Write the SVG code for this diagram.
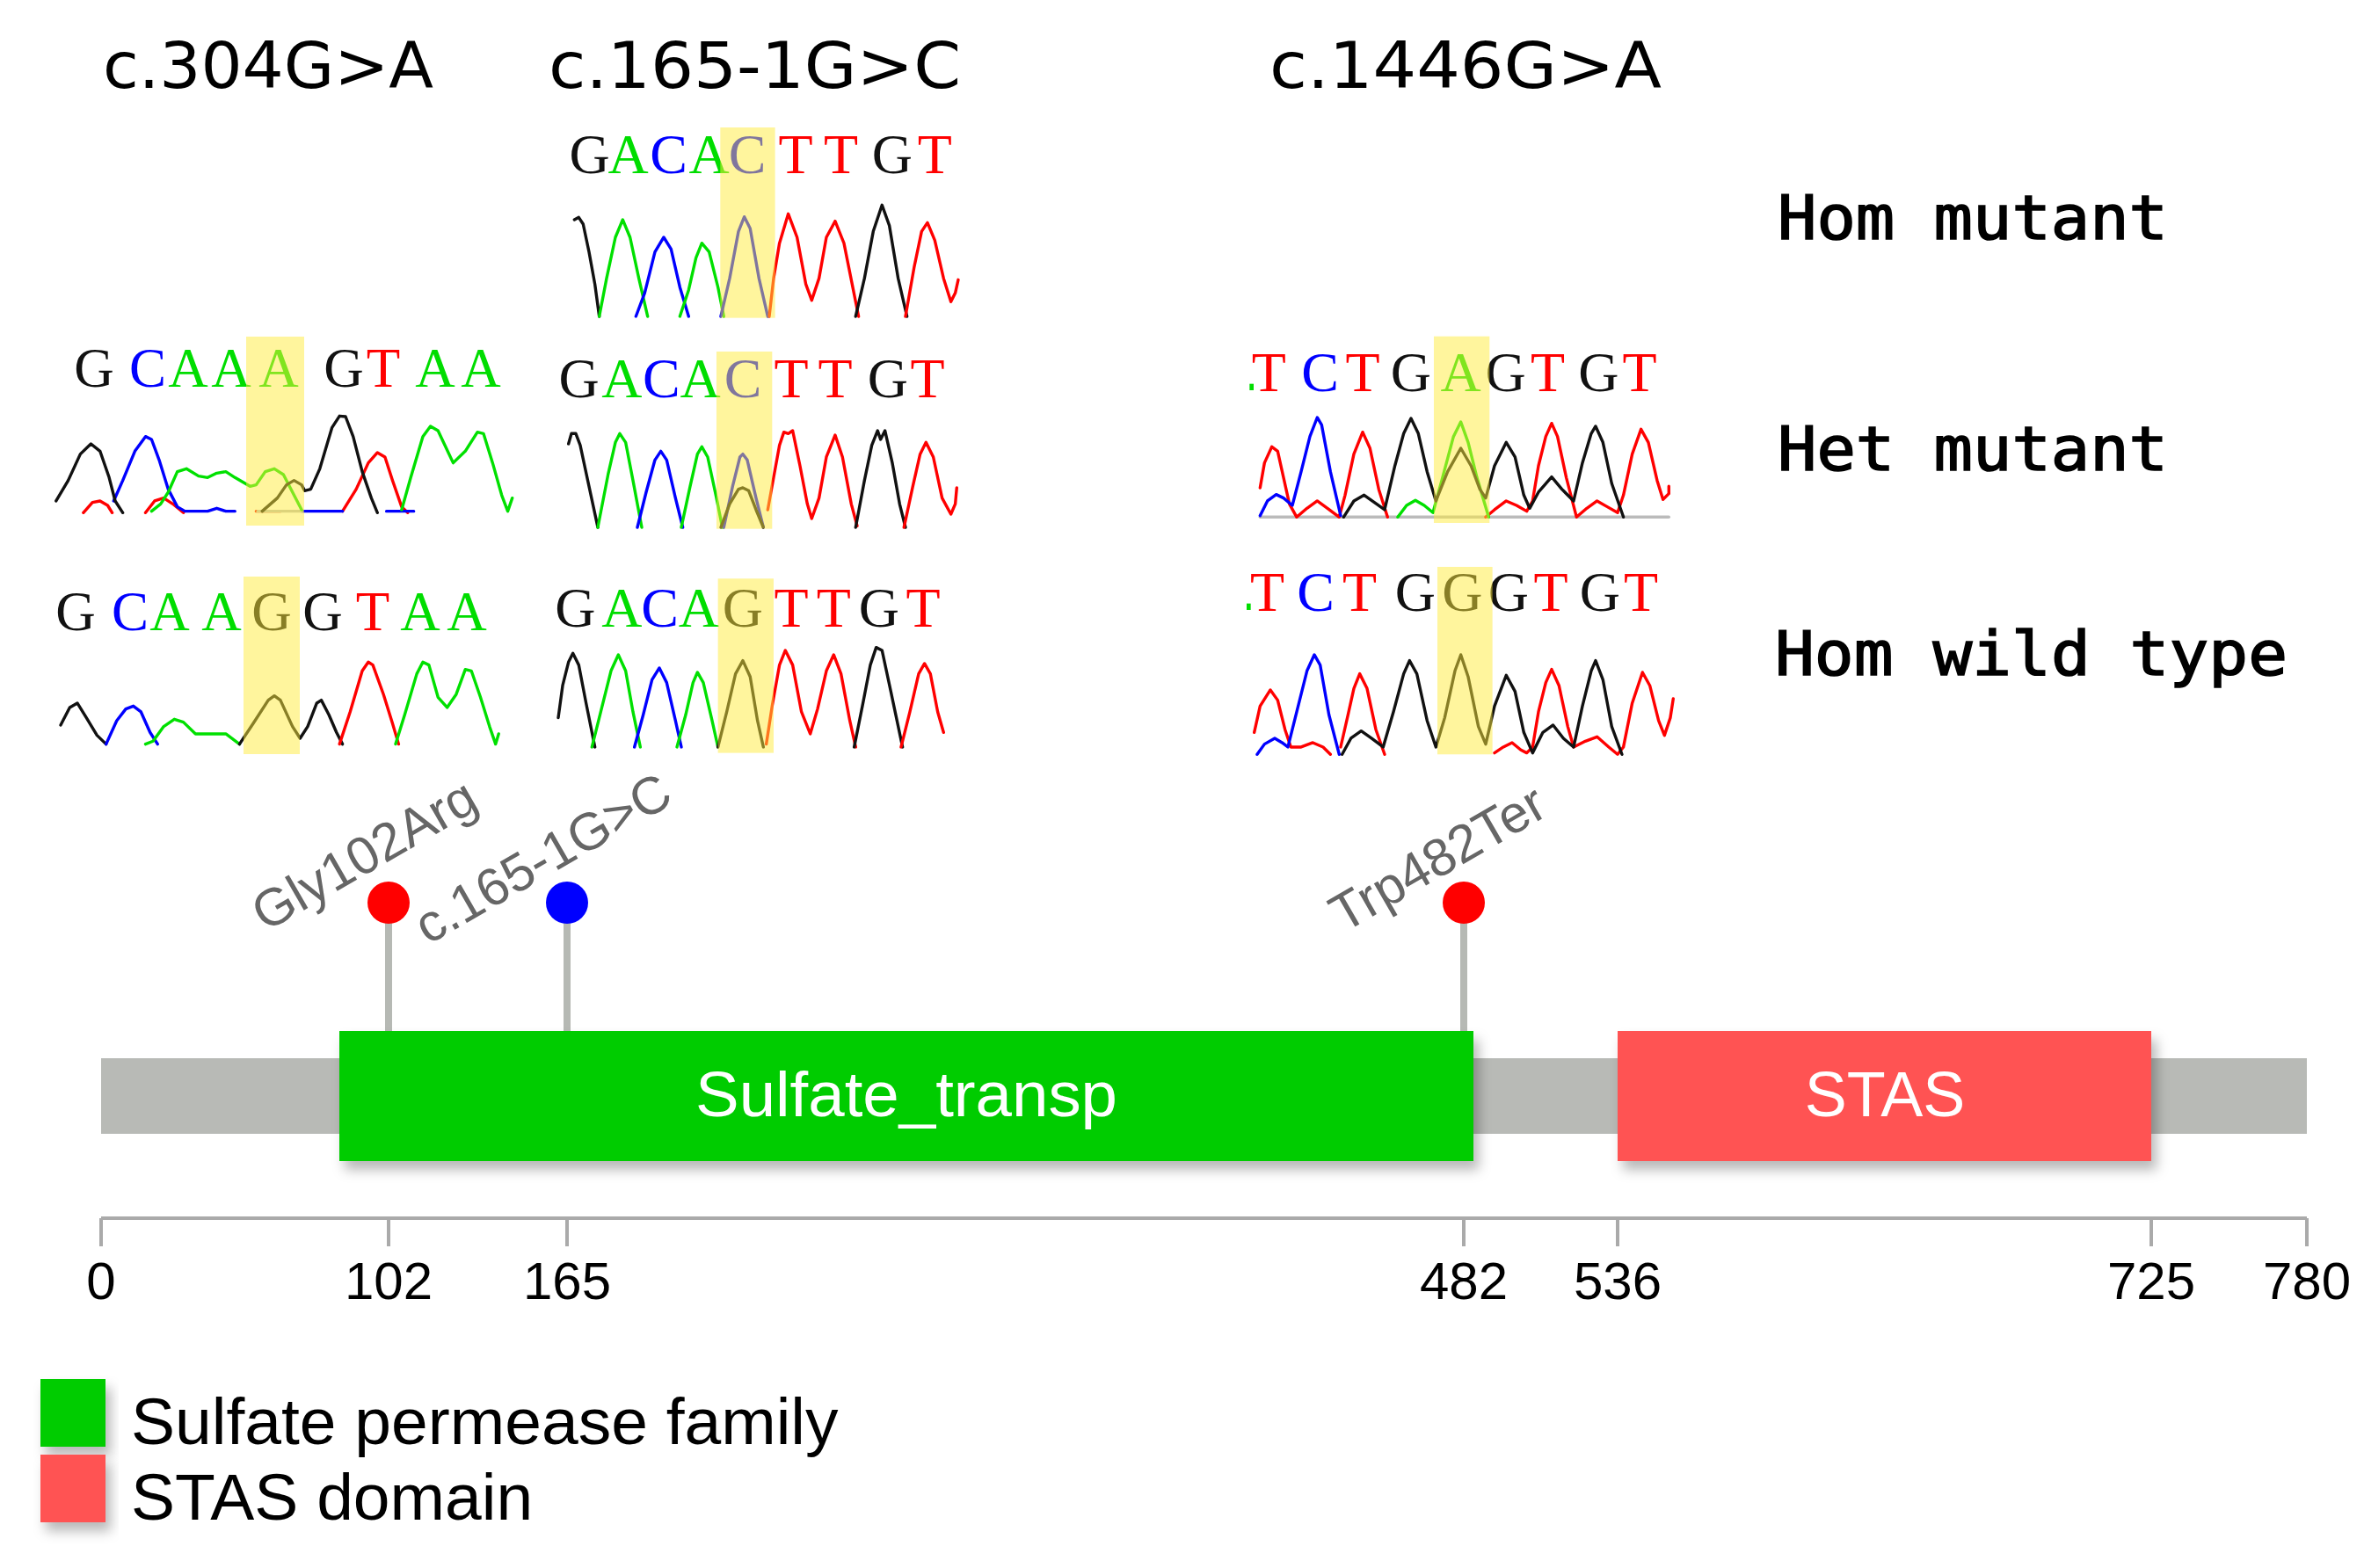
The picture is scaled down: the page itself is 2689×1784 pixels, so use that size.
<svg xmlns="http://www.w3.org/2000/svg" width="2689" height="1784" viewBox="0 0 2689 1784">
<defs>
<style>
.title{font-family:"DejaVu Sans Condensed","DejaVu Sans",sans-serif;font-stretch:condensed;font-size:73px;fill:#000}
.state{font-family:"DejaVu Sans Mono","Liberation Mono",monospace;font-size:69px;fill:#000;stroke:#000;stroke-width:1.6}
.base{font-family:"Liberation Serif","Times New Roman",serif;text-anchor:middle}
.bz{font-size:192px}
.bf{font-size:63px}
.G{fill:#111}.A{fill:#00dd00}.C{fill:#0000ff}.T{fill:#ff0000}
.tr{fill:none;stroke-width:3.4;stroke-linejoin:round;stroke-linecap:round;vector-effect:non-scaling-stroke}
.k{stroke:#111}.g{stroke:#00e000}.b{stroke:#0000ff}.r{stroke:#ff0000}.gy{stroke:#bbbbbb}
.hl{fill:#ffeb3c;opacity:0.5}
.lbl{font-family:"Liberation Sans",Arial,sans-serif;font-size:60px;fill:#666;text-anchor:middle}
.dom{font-family:"Liberation Sans",Arial,sans-serif;font-size:72px;fill:#fff;text-anchor:middle}
.tick{font-family:"Liberation Sans",Arial,sans-serif;font-size:60px;fill:#000;text-anchor:middle}
.leg{font-family:"Liberation Sans",Arial,sans-serif;font-size:75px;fill:#000}
.stem{stroke:#b6b9b4;stroke-width:8}
.axis{stroke:#aaaaaa;stroke-width:4;fill:none}
</style>
<filter id="sh" x="-10%" y="-20%" width="130%" height="160%">
<feDropShadow dx="6" dy="10" stdDeviation="7" flood-color="#000" flood-opacity="0.28"/>
</filter>
</defs>
<rect width="2689" height="1784" fill="#fff"/>

<g id="titles">
<text class="title" x="117" y="100" textLength="376" lengthAdjust="spacingAndGlyphs">c.304G&gt;A</text>
<text class="title" x="624" y="100" textLength="469" lengthAdjust="spacingAndGlyphs">c.165-1G&gt;C</text>
<text class="title" x="1444" y="100" textLength="446" lengthAdjust="spacingAndGlyphs">c.1446G&gt;A</text>
</g>

<g id="states">
<text class="state" x="2022" y="272" textLength="444" lengthAdjust="spacingAndGlyphs">Hom mutant</text>
<text class="state" x="2022" y="535" textLength="444" lengthAdjust="spacingAndGlyphs">Het mutant</text>
<text class="state" x="2019" y="768" textLength="583" lengthAdjust="spacingAndGlyphs">Hom wild type</text>
</g>

<!-- Panel A: c.304G>A -->
<g id="panelA-het">
<text class="base bf" y="440"><tspan class="G" x="107">G</tspan><tspan class="C" x="168">C</tspan><tspan class="A" x="214">A</tspan><tspan class="A" x="263">A</tspan><tspan class="A" x="317">A</tspan><tspan class="G" x="391">G</tspan><tspan class="T" x="436">T</tspan><tspan class="A" x="495">A</tspan><tspan class="A" x="547">A</tspan></text>
<g transform="translate(50,370) scale(0.3448,0.3333)">
<path class="tr r" d="M130,640 L160,605 L185,600 L210,615 L225,640 M335,640 L365,600 L395,590 L425,610 L460,640 M700,635 L780,635 M985,635 L1030,560 L1070,470 L1100,435 L1125,450 L1150,530 L1180,620 L1200,640"/>
<path class="tr b" d="M230,600 L260,530 L300,430 L335,380 L355,390 L380,460 L410,560 L440,620 L465,635 L540,635 L570,625 L600,635 L630,635 M850,635 L985,635 M1130,635 L1220,635"/>
<path class="tr gy" d="M705,635 L850,635"/>
<path class="tr g" d="M355,635 L385,610 L410,570 L440,500 L470,490 L510,515 L540,520 L570,505 L600,500 L630,520 L680,550 L700,545 L730,500 L760,490 L790,510 L820,570 L850,630 M1180,630 L1210,520 L1250,380 L1275,345 L1300,360 L1350,470 L1390,430 L1430,365 L1450,370 L1480,470 L1510,580 L1530,635 L1545,590"/>
<path class="tr k" d="M40,600 L80,530 L120,440 L155,405 L185,430 L215,520 L235,600 L260,640 M720,635 L770,590 L800,545 L825,530 L850,545 L860,565 L880,560 L910,490 L950,350 L975,310 L995,312 L1020,380 L1050,500 L1080,590 L1100,640"/>
</g>
<rect class="hl" x="280" y="383" width="66" height="215"/>
</g>

<g id="panelA-wt">
<text class="base bf" y="717"><tspan class="G" x="86">G</tspan><tspan class="C" x="148">C</tspan><tspan class="A" x="193">A</tspan><tspan class="A" x="252">A</tspan><tspan class="G" x="309">G</tspan><tspan class="G" x="367">G</tspan><tspan class="T" x="424">T</tspan><tspan class="A" x="478">A</tspan><tspan class="A" x="531">A</tspan></text>
<g transform="translate(50,370) scale(0.3448,0.3333)">
<path class="tr k" d="M55,1365 L85,1305 L110,1290 L140,1340 L175,1400 L205,1430"/>
<path class="tr b" d="M205,1430 L240,1350 L270,1310 L295,1300 L320,1320 L350,1390 L375,1430"/>
<path class="tr g" d="M335,1430 L360,1420 L395,1370 L430,1345 L460,1355 L500,1395 L600,1395 L645,1430"/>
<path class="tr k" d="M645,1430 L690,1360 L740,1280 L760,1265 L780,1280 L820,1370 L845,1410 L870,1370 L900,1290 L915,1280 L940,1330 L965,1390 L985,1430"/>
<path class="tr r" d="M975,1430 L1010,1320 L1050,1180 L1070,1150 L1085,1160 L1120,1260 L1150,1360 L1170,1430"/>
<path class="tr g" d="M1160,1430 L1190,1330 L1230,1190 L1250,1150 L1270,1160 L1300,1270 L1330,1305 L1360,1260 L1390,1175 L1410,1180 L1440,1270 L1470,1370 L1490,1430 L1500,1395"/>
</g>
<rect class="hl" x="277" y="656" width="64" height="202"/>
</g>

<!-- Panel B: c.165-1G>C -->
<g id="panelB-hom" transform="translate(620,130) scale(0.3333)">
<text class="base bz" y="200"><tspan class="G" x="152">G</tspan><tspan class="A" x="284">A</tspan><tspan class="C" x="422">C</tspan><tspan class="A" x="560">A</tspan><tspan class="C" x="690">C</tspan><tspan class="T" x="855">T</tspan><tspan class="T" x="1010">T</tspan><tspan class="G" x="1185">G</tspan><tspan class="T" x="1330">T</tspan></text>
<path class="tr k" d="M100,360 L115,352 L130,375 L150,470 L170,580 L185,690"/>
<path class="tr g" d="M185,690 L210,560 L240,420 L265,360 L290,420 L320,560 L350,690"/>
<path class="tr b" d="M310,690 L340,610 L375,470 L405,420 L430,460 L460,590 L490,690"/>
<path class="tr g" d="M460,690 L490,600 L515,490 L535,440 L560,470 L590,590 L610,690"/>
<path class="tr b" d="M600,690 L630,560 L660,400 L680,350 L700,390 L730,560 L760,690"/>
<path class="tr r" d="M765,690 L780,560 L800,440 L830,340 L860,420 L890,580 L910,635 L935,560 L960,420 L990,365 L1020,440 L1050,590 L1070,690"/>
<path class="tr k" d="M1060,690 L1090,560 L1120,400 L1150,310 L1175,380 L1205,560 L1235,690"/>
<path class="tr r" d="M1230,690 L1260,520 L1285,400 L1305,370 L1330,430 L1360,560 L1385,640 L1400,610 L1410,565"/>
<rect class="hl" x="598" y="45" width="187" height="650"/>
</g>

<g id="panelB-het" transform="translate(620,380) scale(0.3333)">
<text class="base bz" y="215"><tspan class="G" x="116">G</tspan><tspan class="A" x="262">A</tspan><tspan class="C" x="397">C</tspan><tspan class="A" x="530">A</tspan><tspan class="C" x="675">C</tspan><tspan class="T" x="840">T</tspan><tspan class="T" x="990">T</tspan><tspan class="G" x="1170">G</tspan><tspan class="T" x="1305">T</tspan></text>
<path class="tr k" d="M80,375 L90,340 L105,340 L120,380 L150,520 L180,660"/>
<path class="tr g" d="M180,660 L215,480 L240,370 L255,340 L275,370 L300,500 L330,660"/>
<path class="tr b" d="M315,660 L345,540 L375,430 L395,400 L415,430 L445,560 L470,660"/>
<path class="tr g" d="M465,660 L495,520 L520,410 L535,385 L555,420 L585,560 L605,660"/>
<path class="tr b" d="M610,660 L640,520 L665,420 L675,410 L690,430 L720,560 L745,660"/>
<path class="tr k" d="M600,660 L630,580 L660,530 L675,525 L695,535 L720,600 L745,660"/>
<path class="tr r" d="M760,600 L780,490 L800,380 L815,335 L830,340 L845,330 L870,450 L895,580 L910,630 L935,560 L960,420 L990,345 L1015,420 L1045,580 L1065,655"/>
<path class="tr k" d="M1060,660 L1090,500 L1115,380 L1135,330 L1145,360 L1160,330 L1185,440 L1210,580 L1230,660"/>
<path class="tr r" d="M1225,660 L1255,520 L1280,410 L1300,370 L1325,420 L1355,560 L1385,615 L1400,580 L1405,525"/>
<rect class="hl" x="585" y="60" width="190" height="605"/>
</g>

<g id="panelB-wt" transform="translate(620,380) scale(0.3333)">
<text class="base bz" y="1000"><tspan class="G" x="103">G</tspan><tspan class="A" x="262">A</tspan><tspan class="C" x="392">C</tspan><tspan class="A" x="525">A</tspan><tspan class="G" x="675">G</tspan><tspan class="T" x="840">T</tspan><tspan class="T" x="985">T</tspan><tspan class="G" x="1140">G</tspan><tspan class="T" x="1290">T</tspan></text>
<path class="tr k" d="M45,1310 L60,1200 L80,1120 L95,1090 L115,1130 L140,1260 L170,1410"/>
<path class="tr g" d="M160,1410 L190,1290 L225,1150 L250,1095 L275,1150 L300,1290 L325,1410"/>
<path class="tr b" d="M305,1410 L335,1300 L365,1180 L390,1140 L415,1190 L445,1320 L465,1410"/>
<path class="tr g" d="M450,1410 L480,1300 L505,1190 L520,1155 L540,1190 L570,1320 L590,1410"/>
<path class="tr k" d="M590,1410 L620,1290 L650,1160 L675,1115 L700,1170 L725,1320 L745,1410"/>
<path class="tr r" d="M755,1400 L775,1270 L800,1130 L820,1080 L845,1130 L875,1290 L905,1365 L930,1280 L960,1150 L985,1095 L1010,1160 L1040,1320 L1060,1410"/>
<path class="tr k" d="M1055,1410 L1085,1260 L1110,1130 L1130,1070 L1150,1080 L1180,1220 L1220,1410"/>
<path class="tr r" d="M1215,1410 L1245,1290 L1275,1160 L1295,1125 L1315,1160 L1340,1290 L1360,1360"/>
<rect class="hl" x="590" y="835" width="190" height="595"/>
</g>

<!-- Panel C: c.1446G>A -->
<g id="panelC-het" transform="translate(1400,370) scale(0.3333)">
<rect x="64" y="200" width="14" height="22" fill="#00dd00"/>
<text class="base bz" y="225"><tspan class="T" x="130">T</tspan><tspan class="C" x="305">C</tspan><tspan class="T" x="450">T</tspan><tspan class="G" x="615">G</tspan><tspan class="A" x="785">A</tspan><tspan class="G" x="938">G</tspan><tspan class="T" x="1082">T</tspan><tspan class="G" x="1255">G</tspan><tspan class="T" x="1395">T</tspan></text>
<path class="tr gy" d="M100,655 L1495,655"/>
<path class="tr r" d="M100,555 L115,470 L140,415 L160,430 L180,520 L200,610 L225,655 L260,625 L295,600 L330,625 L370,655 L390,580 L420,440 L450,365 L475,420 L505,560 L535,655 M870,655 L900,630 L940,600 L975,615 L1010,635 L1030,600 L1050,480 L1075,380 L1095,335 L1115,380 L1145,520 L1180,655 L1215,625 L1250,600 L1285,620 L1320,640 L1340,580 L1370,440 L1400,355 L1425,400 L1455,530 L1475,595 L1495,575 L1495,550"/>
<path class="tr b" d="M100,650 L125,600 L155,578 L180,590 L210,615 L240,500 L270,380 L295,315 L310,340 L340,500 L375,650"/>
<path class="tr g" d="M570,655 L600,615 L630,598 L660,615 L690,640 L720,530 L760,380 L785,330 L810,400 L840,520 L880,655"/>
<path class="tr k" d="M385,655 L420,600 L455,580 L490,605 L525,630 L560,480 L590,370 L615,318 L640,370 L670,500 L700,600 L740,500 L785,420 L820,480 L850,560 L870,590 L900,480 L940,400 L970,450 L1000,580 L1020,625 L1050,570 L1095,518 L1130,560 L1170,600 L1200,470 L1230,370 L1245,345 L1270,400 L1300,540 L1340,655"/>
<rect class="hl" x="693" y="38" width="190" height="637"/>
</g>

<g id="panelC-wt" transform="translate(1400,370) scale(0.3333)">
<rect x="54" y="950" width="14" height="22" fill="#00dd00"/>
<text class="base bz" y="975"><tspan class="T" x="125">T</tspan><tspan class="C" x="290">C</tspan><tspan class="T" x="440">T</tspan><tspan class="G" x="630">G</tspan><tspan class="G" x="790">G</tspan><tspan class="G" x="948">G</tspan><tspan class="T" x="1092">T</tspan><tspan class="G" x="1260">G</tspan><tspan class="T" x="1400">T</tspan></text>
<path class="tr r" d="M80,1390 L100,1300 L135,1245 L160,1280 L185,1380 L205,1440 L240,1440 L280,1425 L315,1440 L340,1465 M375,1440 L400,1330 L420,1240 L440,1190 L465,1240 L495,1380 L525,1465 M900,1460 L930,1440 L960,1425 L990,1450 L1010,1460 L1030,1440 L1050,1320 L1075,1220 L1095,1175 L1120,1230 L1150,1370 L1170,1440 L1210,1420 L1250,1405 L1290,1440 L1320,1465 L1340,1440 L1370,1290 L1405,1185 L1430,1230 L1460,1350 L1480,1400 L1500,1340 L1510,1275"/>
<path class="tr b" d="M90,1465 L115,1430 L150,1410 L175,1425 L195,1440 L225,1320 L260,1180 L285,1125 L305,1160 L335,1330 L370,1465"/>
<path class="tr k" d="M380,1465 L410,1410 L445,1385 L480,1410 L520,1440 L555,1320 L590,1190 L610,1145 L635,1190 L670,1350 L700,1440 L730,1340 L765,1180 L785,1125 L810,1200 L845,1370 L870,1430 L900,1300 L940,1195 L970,1250 L1000,1390 L1030,1460 L1065,1390 L1100,1365 L1135,1410 L1170,1440 L1200,1300 L1230,1180 L1245,1145 L1270,1210 L1300,1370 L1335,1465"/>
<rect class="hl" x="705" y="825" width="188" height="640"/>
</g>

<!-- protein diagram -->
<g id="backbone">
<rect x="115" y="1204" width="2509" height="86" fill="#b8bab6"/>
</g>

<g id="connectors">
<line class="stem" x1="442" y1="1027" x2="442" y2="1175"/>
<line class="stem" x1="645" y1="1027" x2="645" y2="1175"/>
<line class="stem" x1="1665" y1="1027" x2="1665" y2="1175"/>
</g>

<g id="domain-sulfate">
<rect x="386" y="1173" width="1290" height="148" fill="#00cc00" filter="url(#sh)"/>
<text class="dom" x="1031" y="1270" textLength="480" lengthAdjust="spacingAndGlyphs">Sulfate_transp</text>
</g>
<g id="domain-stas">
<rect x="1840" y="1173" width="607" height="148" fill="#ff5252" filter="url(#sh)"/>
<text class="dom" x="2144" y="1270">STAS</text>
</g>

<g id="mut-gly102arg">
<circle cx="442" cy="1027" r="24" fill="#ff0000"/>
<text class="lbl" x="414" y="993" transform="rotate(-30 414 972)">Gly102Arg</text>
</g>
<g id="mut-c165">
<circle cx="645" cy="1027" r="24" fill="#0000ff"/>
<text class="lbl" x="617" y="997" transform="rotate(-30 617 976)">c.165-1G&gt;C</text>
</g>
<g id="mut-trp482ter">
<circle cx="1665" cy="1027" r="24" fill="#ff0000"/>
<text class="lbl" x="1635" y="997" transform="rotate(-30 1635 976)">Trp482Ter</text>
</g>

<g id="axis">
<path class="axis" d="M115,1386 L2624,1386 M115,1386 L115,1418 M442,1386 L442,1418 M645,1386 L645,1418 M1665,1386 L1665,1418 M1840,1386 L1840,1418 M2447,1386 L2447,1418 M2624,1386 L2624,1418"/>
<text class="tick" x="115" y="1478">0</text>
<text class="tick" x="442" y="1478">102</text>
<text class="tick" x="645" y="1478">165</text>
<text class="tick" x="1665" y="1478">482</text>
<text class="tick" x="1840" y="1478">536</text>
<text class="tick" x="2447" y="1478">725</text>
<text class="tick" x="2624" y="1478">780</text>
</g>

<g id="legend">
<rect x="46" y="1569" width="74" height="77" fill="#00cc00" filter="url(#sh)"/>
<rect x="46" y="1655" width="74" height="77" fill="#ff5252" filter="url(#sh)"/>
<text class="leg" x="149" y="1643">Sulfate permease family</text>
<text class="leg" x="149" y="1729">STAS domain</text>
</g>
</svg>
